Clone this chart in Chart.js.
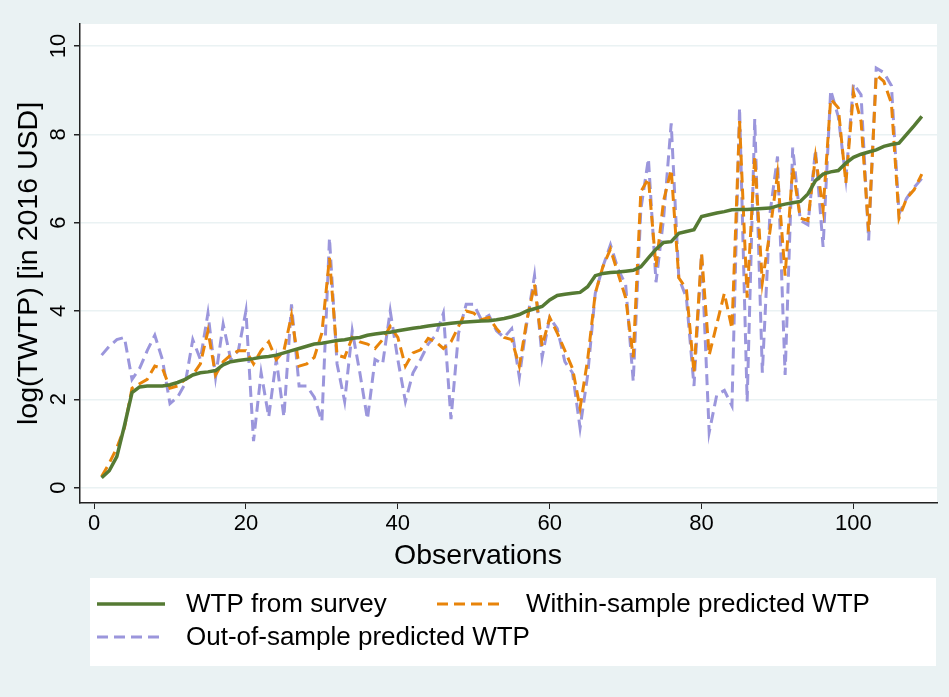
<!DOCTYPE html>
<html>
<head>
<meta charset="utf-8">
<script src="https://cdn.jsdelivr.net/npm/chart.js@4/dist/chart.umd.min.js"></script>
<style>
  html, body { margin: 0; padding: 0; background: #eaf2f3; }
  #wrap { width: 949px; height: 697px; }
</style>
</head>
<body>
<div id="wrap"><canvas id="wtp-chart" width="949" height="697"></canvas></div>
<script>
//observation index
const obs = [1,2,3,4,5,6,7,8,9,10,11,12,13,14,15,16,17,18,19,20,
  21,22,23,24,25,26,27,28,29,30,31,32,33,34,35,36,37,38,39,40,
  41,42,43,44,45,46,47,48,49,50,51,52,53,54,55,56,57,58,59,60,
  61,62,63,64,65,66,67,68,69,70,71,72,73,74,75,76,77,78,79,80,
  81,82,83,84,85,86,87,88,89,90,91,92,93,94,95,96,97,98,99,100,
  101,102,103,104,105,106,107,108,109];

//WTP from survey (sorted)
const wtpSurvey = [0.22,0.38,0.7,1.4,2.15,2.28,2.3,2.3,2.3,2.33,
  2.38,2.45,2.55,2.6,2.62,2.65,2.78,2.85,2.88,2.9,
  2.92,2.95,2.97,3.0,3.05,3.1,3.15,3.2,3.25,3.27,
  3.3,3.33,3.35,3.38,3.4,3.45,3.48,3.5,3.52,3.55,
  3.58,3.61,3.63,3.66,3.68,3.7,3.72,3.74,3.75,3.76,
  3.77,3.78,3.8,3.83,3.87,3.92,4.0,4.05,4.1,4.25,
  4.35,4.38,4.4,4.42,4.55,4.8,4.85,4.87,4.88,4.9,
  4.92,5.0,5.2,5.4,5.55,5.57,5.76,5.8,5.84,6.14,
  6.18,6.22,6.25,6.29,6.3,6.3,6.31,6.32,6.33,6.38,
  6.42,6.45,6.48,6.65,6.95,7.1,7.15,7.18,7.35,7.48,
  7.55,7.6,7.65,7.73,7.77,7.8,8.0,8.2,8.41];

//within-sample prediction
const wtpWithin = [0.25,0.55,0.9,1.35,2.25,2.35,2.45,2.75,2.7,2.25,
  2.3,2.45,2.55,2.8,3.55,2.55,2.85,3.0,3.1,3.1,
  2.8,3.1,3.3,2.9,3.1,3.9,2.75,2.8,2.95,3.5,
  5.2,3.0,2.95,3.4,3.3,3.25,3.15,3.35,3.65,3.4,
  2.75,3.05,3.12,3.38,3.3,3.15,3.3,3.65,4.0,3.95,
  3.8,3.85,3.6,3.4,3.35,2.75,3.8,4.6,3.2,3.85,
  3.5,3.1,2.7,1.8,2.9,4.4,5.0,5.4,4.85,4.3,
  2.95,6.7,7.0,5.0,6.5,7.2,4.75,4.5,2.6,5.3,
  3.0,3.7,4.4,3.6,8.3,4.3,7.5,4.65,5.8,7.1,
  4.8,7.25,6.1,6.05,7.5,6.3,8.8,8.6,6.9,8.95,
  8.3,5.8,9.35,9.2,8.7,6.1,6.55,6.75,7.1];

//out-of-sample prediction
const wtpOutOfSample = [3.0,3.2,3.35,3.4,2.45,2.7,3.1,3.45,2.9,1.9,
  2.05,2.35,3.35,2.9,3.95,2.5,3.7,2.9,3.1,4.0,
  1.05,2.6,1.6,2.9,1.6,4.15,2.3,2.3,2.05,1.5,
  5.65,2.8,1.95,3.55,2.6,1.55,2.9,2.8,4.0,2.9,
  1.95,2.6,2.9,3.25,3.45,3.95,1.55,3.5,4.15,4.15,
  3.8,3.9,3.55,3.4,3.6,2.5,3.75,4.8,2.95,3.85,
  3.6,2.85,2.6,1.35,2.55,4.4,5.0,5.5,4.95,4.6,
  2.4,6.3,7.45,4.65,6.1,8.25,4.75,4.3,2.3,5.3,
  1.25,2.1,2.2,1.85,8.6,1.95,8.35,2.6,6.2,7.5,
  2.55,7.7,6.05,5.95,7.65,5.45,9.0,8.4,7.0,9.15,
  8.9,5.6,9.5,9.4,9.1,6.2,6.55,6.8,7.0];

const xTickValues = [0, 20, 40, 60, 80, 100];
const yTickValues = [0, 2, 4, 6, 8, 10];
const xTitle = 'Observations';

const toPoints = (vals) => obs.map((x, i) => ({x: x, y: vals[i]}));

Chart.defaults.font.family = "'Liberation Sans', Arial, sans-serif";
Chart.defaults.color = '#000';

//background + white plot region
const bgPlugin = {
    id: 'bgPlugin',
    beforeDraw(chart) {
        const {ctx, chartArea: a} = chart;
        ctx.save();
        ctx.fillStyle = '#eaf2f3';
        ctx.fillRect(0, 0, chart.width, chart.height);
        ctx.fillStyle = '#ffffff';
        ctx.fillRect(a.left, a.top, a.right - a.left, a.bottom - a.top);
        ctx.restore();
    }
};

//x title (stata centres it on the whole graph) and legend box
const legendPlugin = {
    id: 'legendPlugin',
    afterDraw(chart) {
        const ctx = chart.ctx;
        const ds = chart.data.datasets;
        ctx.save();
        ctx.font = "28.5px 'Liberation Sans', Arial, sans-serif";
        ctx.textAlign = 'center';
        ctx.textBaseline = 'middle';
        ctx.fillStyle = '#000';
        ctx.fillText(xTitle, 478, 556);

        const slots = [
            {i: 0, x: 97, y: 604},
            {i: 1, x: 437, y: 604},
            {i: 2, x: 97, y: 637}
        ];
        ctx.fillStyle = '#ffffff';
        ctx.fillRect(90, 578, 846, 88);
        ctx.font = "26px 'Liberation Sans', Arial, sans-serif";
        ctx.textAlign = 'left';
        slots.forEach(s => {
            const d = ds[s.i];
            ctx.strokeStyle = d.borderColor;
            ctx.lineWidth = d.borderWidth;
            ctx.setLineDash(d.borderDash || []);
            ctx.beginPath();
            ctx.moveTo(s.x, s.y);
            ctx.lineTo(s.x + 68, s.y);
            ctx.stroke();
            ctx.setLineDash([]);
            ctx.fillStyle = '#000';
            ctx.fillText(d.label, s.x + 89, s.y + 1);
        });
        ctx.restore();
    }
};

const wtpCanvas = document.getElementById('wtp-chart');
const wtpChart = new Chart(wtpCanvas, {
    type: 'line',
    data: {
        datasets: [{
            label: 'WTP from survey',
            data: toPoints(wtpSurvey),
            borderColor: '#557a33',
            borderWidth: 3.5,
            pointRadius: 0
        }, {
            label: 'Within-sample predicted WTP',
            data: toPoints(wtpWithin),
            borderColor: '#e8840a',
            borderWidth: 3,
            borderDash: [11, 6],
            pointRadius: 0
        }, {
            label: 'Out-of-sample predicted WTP',
            data: toPoints(wtpOutOfSample),
            borderColor: '#9b96dc',
            borderWidth: 3,
            borderDash: [11, 6],
            pointRadius: 0
        }]
    },
    options: {
        responsive: false,
        animation: false,
        layout: {
            padding: {left: 0, right: 12, top: 24, bottom: 123}
        },
        scales: {
            x: {
                type: 'linear',
                min: -1.85,
                max: 111,
                afterBuildTicks: s => { s.ticks = xTickValues.map(v => ({value: v})); },
                afterFit: s => { s.height = 71; },
                grid: {drawOnChartArea: false, tickColor: '#222', tickLength: 6},
                border: {color: '#222', width: 1.5},
                ticks: {maxRotation: 0, padding: 2, font: {size: 22}},
                title: {display: false}
            },
            y: {
                type: 'linear',
                min: -0.35,
                max: 10.5,
                afterBuildTicks: s => { s.ticks = yTickValues.map(v => ({value: v})); },
                afterFit: s => { s.width = 80; },
                grid: {color: '#eaf2f3', lineWidth: 1.5, tickColor: '#222', tickLength: 6},
                border: {color: '#222', width: 1.5},
                ticks: {minRotation: 90, maxRotation: 90, crossAlign: 'center', padding: 3, font: {size: 22}},
                title: {display: true, text: 'log(TWTP) [in 2016 USD]', font: {size: 28.5}, padding: {top: 12, bottom: 0}}
            }
        },
        plugins: {
            legend: {display: false},
            tooltip: {enabled: false}
        }
    },
    plugins: [bgPlugin, legendPlugin]
});
</script>
</body>
</html>
